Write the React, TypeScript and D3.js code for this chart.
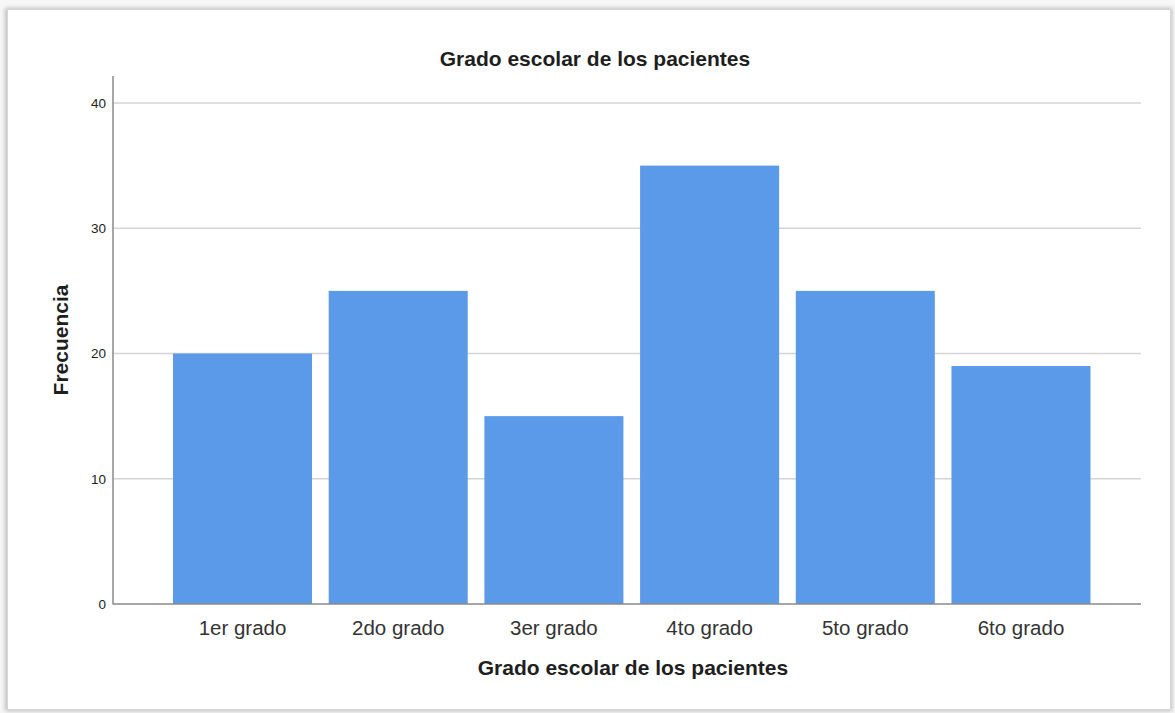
import React from "react";
import * as d3 from "d3";

const categories = ["1er grado", "2do grado", "3er grado", "4to grado", "5to grado", "6to grado"];
const frequencies = [20, 25, 15, 35, 25, 19];
const yTicks = [0, 10, 20, 30, 40];

const W = 1175;
const H = 713;

export default function App() {
  const y = d3.scaleLinear().domain([0, 40]).range([604, 103]);
  const x = d3.scaleBand<string>().domain(categories).range([173, 1090.5]).paddingInner(0.107).paddingOuter(0);
  const font = "Arial, 'Liberation Sans', sans-serif";

  return (
    <svg width={W} height={H} style={{ position: "absolute", left: 0, top: 0 }} fontFamily={font}>
      <defs>
        <filter id="frameShadow" x="-2%" y="-2%" width="104%" height="104%">
          <feGaussianBlur stdDeviation="2" />
        </filter>
      </defs>
      <rect x={0} y={0} width={W} height={H} fill="#f7f7f7" />
      <rect x={5} y={8} width={1167} height={703} fill="#bdbdbd" filter="url(#frameShadow)" />
      <rect x={7.5} y={9.5} width={1163} height={700} fill="#ffffff" stroke="#d6d6d6" strokeWidth={1} />

      {/* gridlines */}
      {yTicks.filter((t) => t > 0).map((t) => (
        <line key={t} x1={113} x2={1141} y1={y(t)} y2={y(t)} stroke="#d4d4d4" strokeWidth={1.5} />
      ))}

      {/* bars */}
      {categories.map((c, i) => (
        <rect
          key={c}
          x={x(c)}
          y={y(frequencies[i])}
          width={x.bandwidth()}
          height={y(0) - y(frequencies[i])}
          fill="#5b9ae8"
        />
      ))}

      {/* axes */}
      <line x1={113} x2={113} y1={76} y2={604.5} stroke="#8a8a8a" strokeWidth={1.5} />
      <line x1={113} x2={1141} y1={604} y2={604} stroke="#8a8a8a" strokeWidth={1.5} />

      {yTicks.map((t) => (
        <text key={t} x={106} y={y(t)} dy="0.36em" textAnchor="end" fontSize={13.5} fill="#222">
          {t}
        </text>
      ))}

      {categories.map((c) => (
        <text key={c} x={(x(c) ?? 0) + x.bandwidth() / 2} y={635} textAnchor="middle" fontSize={20.5} fill="#333">
          {c}
        </text>
      ))}

      <text x={595} y={66} textAnchor="middle" fontSize={21} fontWeight="bold" fill="#1e1e1e">
        Grado escolar de los pacientes
      </text>
      <text x={633} y={675} textAnchor="middle" fontSize={21} fontWeight="bold" fill="#1e1e1e">
        Grado escolar de los pacientes
      </text>
      <text
        transform="translate(68,340) rotate(-90)"
        textAnchor="middle"
        fontSize={21}
        fontWeight="bold"
        fill="#1e1e1e"
      >
        Frecuencia
      </text>
    </svg>
  );
}
